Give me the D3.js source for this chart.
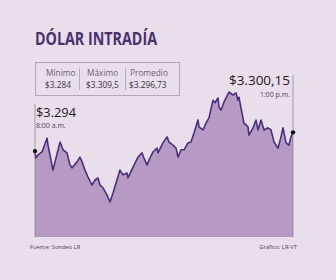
<!DOCTYPE html>
<html>
<head>
<meta charset="utf-8">
<script src="https://cdn.jsdelivr.net/npm/d3@7"></script>
<style>
  html, body { margin: 0; padding: 0; background: #e8dfea; }
  svg { display: block; font-family: "Open Sans", "Noto Sans", sans-serif; }
</style>
</head>
<body>
<div id="chart"></div>
<script>
// minutos desde las 8:00 a.m.
const minutes = [0, 0.8, 3.5, 8.1, 14, 15.1, 17.4, 20.9, 23.3, 29.1, 32.6, 37.2, 40.7, 43, 48.8, 52.3, 54.7, 58.1, 61.6, 66.3,
  69.8, 73.3, 75.6, 79.1, 83.7, 87.2, 90.7, 95.3, 98.8, 102.3, 107, 108.1, 114, 119.8, 124.4, 126.7, 130.2, 133.7, 137.2, 141.9,
  143, 148.8, 153.5, 155.8, 160.5, 164, 166.3, 169.8, 173.3, 177.9, 181.4, 184.9, 189.5, 190.7, 195.3, 198.8, 202.3, 207, 209.3,
  212.8, 214, 216.3, 219.8, 225.6, 230.2, 233.7, 236, 237.2, 239.5, 243, 247.7, 248.8, 253.5, 257, 259.3, 262.8, 266.3, 270.9,
  274.4, 277.9, 282.6, 286, 288.4, 291.9, 295.3, 297.7, 300];
// precio del dólar (COP)
const prices = [3295.8, 3294.2, 3294.9, 3295.6, 3298.8, 3297.2, 3294.9, 3291.4, 3293.3, 3297.9, 3296.1, 3295.4, 3292.6, 3291.9,
  3293.3, 3294.4, 3293.3, 3291.4, 3289.8, 3287.9, 3289.1, 3289.6, 3287.9, 3287.3, 3285.6, 3284.0, 3286.1, 3289.1, 3291.4, 3290.3,
  3290.7, 3289.6, 3292.1, 3294.4, 3295.4, 3294.2, 3292.6, 3294.2, 3295.6, 3296.5, 3295.4, 3297.7, 3299.1, 3297.9, 3297.2, 3296.5,
  3294.4, 3296.1, 3296.1, 3297.7, 3297.9, 3300.0, 3303.0, 3301.4, 3300.7, 3302.3, 3303.5, 3307.6, 3307.0, 3308.1, 3306.0, 3305.3,
  3307.2, 3309.5, 3308.8, 3309.3, 3307.6, 3308.3, 3305.8, 3302.3, 3301.4, 3299.5, 3301.2, 3303.0, 3300.7, 3303.0, 3300.7, 3301.2,
  3300.7, 3297.9, 3296.5, 3299.1, 3301.2, 3297.7, 3297.2, 3299.1, 3300.15];

const statLabels = ['Mínimo', 'Máximo', 'Promedio'];
const statValues = ['$3.284', '$3.309,5', '$3.296,73'];

const width = 336, height = 280;
const data = minutes.map((m, i) => ({ m: m, v: prices[i] }));

const svg = d3.select('#chart').append('svg')
  .attr('width', width)
  .attr('height', height);

svg.append('rect').attr('width', width).attr('height', height).attr('fill', '#e8dfea');

// escalas
const x = d3.scaleLinear().domain([0, 300]).range([35, 293]);
const y = d3.scaleLinear().domain([3284, 3309.5]).range([202, 92]);
const bottom = 237;

// área + línea
const area = d3.area()
  .x(d => x(d.m))
  .y0(bottom)
  .y1(d => y(d.v));
const line = d3.line()
  .x(d => x(d.m))
  .y(d => y(d.v));

svg.append('path')
  .datum(data)
  .attr('d', area)
  .attr('fill', '#b69ac3');

svg.append('path')
  .datum(data)
  .attr('d', line)
  .attr('fill', 'none')
  .attr('stroke', '#4b2f7e')
  .attr('stroke-width', 1.6)
  .attr('stroke-linejoin', 'round');

// líneas verticales de referencia
svg.append('line')
  .attr('x1', x(0)).attr('x2', x(0))
  .attr('y1', 104).attr('y2', bottom)
  .attr('stroke', '#7a6f80').attr('stroke-width', 0.6);
svg.append('line')
  .attr('x1', x(300)).attr('x2', x(300))
  .attr('y1', 75).attr('y2', bottom)
  .attr('stroke', '#7a6f80').attr('stroke-width', 0.6);

// puntos inicial y final
svg.selectAll('circle.end')
  .data([data[0], data[data.length - 1]])
  .join('circle')
  .attr('class', 'end')
  .attr('cx', d => x(d.m))
  .attr('cy', d => y(d.v))
  .attr('r', 2.2)
  .attr('fill', '#111');

// título
svg.append('text')
  .attr('x', 35).attr('y', 45)
  .attr('font-size', 17)
  .attr('font-weight', 700)
  .attr('textLength', 122)
  .attr('lengthAdjust', 'spacingAndGlyphs')
  .attr('fill', '#4a2f72')
  .text('DÓLAR INTRADÍA');

// cuadro de estadísticas
svg.append('rect')
  .attr('x', 35.5).attr('y', 62.5)
  .attr('width', 144).attr('height', 33)
  .attr('fill', 'none')
  .attr('stroke', '#a49aa8')
  .attr('stroke-width', 0.8);

const colX = [46, 87, 130];
[79.5, 125.5].forEach(px => {
  svg.append('line')
    .attr('x1', px).attr('x2', px)
    .attr('y1', 68).attr('y2', 90)
    .attr('stroke', '#a49aa8').attr('stroke-width', 0.7);
});
svg.append('g').selectAll('text')
  .data(statLabels)
  .join('text')
  .attr('x', (d, i) => colX[i])
  .attr('y', 76)
  .attr('font-size', 8.3)
  .attr('fill', '#6a6170')
  .text(d => d);
svg.append('g').selectAll('text')
  .data(statValues)
  .join('text')
  .attr('x', (d, i) => colX[i] - 1)
  .attr('y', 88)
  .attr('font-size', 8.3)
  .attr('fill', '#3a3340')
  .text(d => d);

// etiquetas de inicio y cierre
svg.append('text')
  .attr('x', 36).attr('y', 117)
  .attr('font-size', 13.5)
  .attr('textLength', 40)
  .attr('lengthAdjust', 'spacingAndGlyphs')
  .attr('fill', '#1e1a22')
  .text('$3.294');
svg.append('text')
  .attr('x', 36).attr('y', 128)
  .attr('font-size', 7)
  .attr('fill', '#4a4450')
  .text('8:00 a.m.');

svg.append('text')
  .attr('x', 290).attr('y', 85)
  .attr('text-anchor', 'end')
  .attr('font-size', 13.5)
  .attr('fill', '#1e1a22')
  .text('$3.300,15');
svg.append('text')
  .attr('x', 290).attr('y', 97)
  .attr('text-anchor', 'end')
  .attr('font-size', 7)
  .attr('fill', '#4a4450')
  .text('1:00 p.m.');

// pie
svg.append('text')
  .attr('x', 30).attr('y', 249)
  .attr('font-size', 5.8)
  .attr('fill', '#4a4450')
  .text('Fuente: Sondeo LR');
svg.append('text')
  .attr('x', 297).attr('y', 249)
  .attr('text-anchor', 'end')
  .attr('font-size', 5.8)
  .attr('fill', '#4a4450')
  .text('Gráfico: LR-VT');
</script>
</body>
</html>
